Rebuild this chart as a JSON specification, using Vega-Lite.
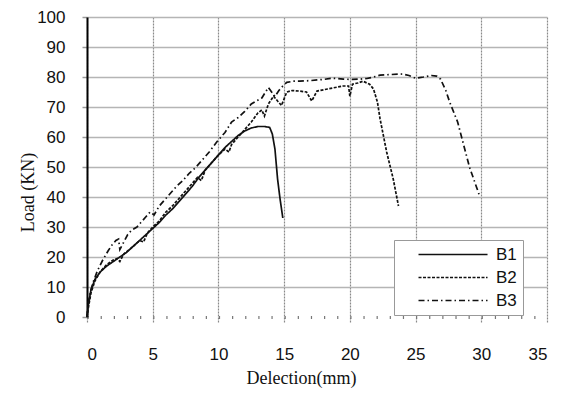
{
  "$schema": "https://vega.github.io/schema/vega-lite/v6.json",
  "autosize": {"type": "none"},
  "padding": {"left": 87, "top": 17, "right": 25, "bottom": 93},
  "width": 460,
  "height": 300,
  "background": "white",
  "config": {
    "view": {"stroke": null},
    "axis": {"labelFont": "Liberation Sans", "labelFontSize": 17, "labelColor": "#111", "titleFont": "Liberation Serif", "titleFontSize": 18, "titleFontWeight": "normal", "titleColor": "#111"}
  },
  "datasets": {
    "curves": [
      {"series": "B1", "x": 0, "y": 0}, {"series": "B1", "x": 0.1, "y": 4}, {"series": "B1", "x": 0.3, "y": 9}, {"series": "B1", "x": 0.6, "y": 12.5}, {"series": "B1", "x": 1, "y": 15}, {"series": "B1", "x": 1.5, "y": 17}, {"series": "B1", "x": 2, "y": 18.5}, {"series": "B1", "x": 2.5, "y": 20}, {"series": "B1", "x": 3, "y": 21.5}, {"series": "B1", "x": 3.5, "y": 23.5}, {"series": "B1", "x": 4, "y": 25.5}, {"series": "B1", "x": 4.5, "y": 27.5}, {"series": "B1", "x": 5, "y": 29.5}, {"series": "B1", "x": 5.5, "y": 31.5}, {"series": "B1", "x": 6, "y": 34}, {"series": "B1", "x": 6.5, "y": 36}, {"series": "B1", "x": 7, "y": 38.5}, {"series": "B1", "x": 7.5, "y": 41}, {"series": "B1", "x": 8, "y": 43.5}, {"series": "B1", "x": 8.5, "y": 46.5}, {"series": "B1", "x": 9, "y": 49}, {"series": "B1", "x": 9.5, "y": 51.5}, {"series": "B1", "x": 10, "y": 54}, {"series": "B1", "x": 10.5, "y": 56.5}, {"series": "B1", "x": 11, "y": 58.5}, {"series": "B1", "x": 11.5, "y": 60.5}, {"series": "B1", "x": 12, "y": 62}, {"series": "B1", "x": 12.5, "y": 63}, {"series": "B1", "x": 13, "y": 63.5}, {"series": "B1", "x": 13.5, "y": 63.5}, {"series": "B1", "x": 13.9, "y": 63.2}, {"series": "B1", "x": 14.1, "y": 61}, {"series": "B1", "x": 14.3, "y": 56}, {"series": "B1", "x": 14.5, "y": 46}, {"series": "B1", "x": 14.7, "y": 39}, {"series": "B1", "x": 14.9, "y": 33},
      {"series": "B2", "x": 0, "y": 0}, {"series": "B2", "x": 0.1, "y": 3}, {"series": "B2", "x": 0.3, "y": 8}, {"series": "B2", "x": 0.6, "y": 12}, {"series": "B2", "x": 1, "y": 15}, {"series": "B2", "x": 1.5, "y": 17.5}, {"series": "B2", "x": 2, "y": 19}, {"series": "B2", "x": 2.3, "y": 19.5}, {"series": "B2", "x": 2.5, "y": 18.5}, {"series": "B2", "x": 2.8, "y": 21}, {"series": "B2", "x": 3.5, "y": 23.5}, {"series": "B2", "x": 4, "y": 25.5}, {"series": "B2", "x": 4.3, "y": 25}, {"series": "B2", "x": 4.6, "y": 28}, {"series": "B2", "x": 5, "y": 30}, {"series": "B2", "x": 5.5, "y": 32}, {"series": "B2", "x": 6, "y": 35}, {"series": "B2", "x": 6.5, "y": 37}, {"series": "B2", "x": 7, "y": 39.5}, {"series": "B2", "x": 7.5, "y": 42}, {"series": "B2", "x": 8, "y": 44.5}, {"series": "B2", "x": 8.4, "y": 46.5}, {"series": "B2", "x": 8.7, "y": 45.5}, {"series": "B2", "x": 9, "y": 49}, {"series": "B2", "x": 9.5, "y": 51.5}, {"series": "B2", "x": 10, "y": 54}, {"series": "B2", "x": 10.5, "y": 56}, {"series": "B2", "x": 10.8, "y": 55}, {"series": "B2", "x": 11, "y": 57.5}, {"series": "B2", "x": 11.5, "y": 60}, {"series": "B2", "x": 12, "y": 62.5}, {"series": "B2", "x": 12.5, "y": 65}, {"series": "B2", "x": 13, "y": 68}, {"series": "B2", "x": 13.3, "y": 69}, {"series": "B2", "x": 13.5, "y": 67}, {"series": "B2", "x": 13.8, "y": 71}, {"series": "B2", "x": 14.2, "y": 73.6}, {"series": "B2", "x": 14.5, "y": 72}, {"series": "B2", "x": 14.8, "y": 70.5}, {"series": "B2", "x": 15.2, "y": 75}, {"series": "B2", "x": 15.6, "y": 75.5}, {"series": "B2", "x": 16.2, "y": 75.3}, {"series": "B2", "x": 16.7, "y": 75}, {"series": "B2", "x": 17.1, "y": 72}, {"series": "B2", "x": 17.5, "y": 75.3}, {"series": "B2", "x": 18.3, "y": 76}, {"series": "B2", "x": 19, "y": 76.6}, {"series": "B2", "x": 19.5, "y": 77}, {"series": "B2", "x": 19.9, "y": 77}, {"series": "B2", "x": 20, "y": 73.6}, {"series": "B2", "x": 20.2, "y": 77.6}, {"series": "B2", "x": 20.6, "y": 78}, {"series": "B2", "x": 21, "y": 78.6}, {"series": "B2", "x": 21.5, "y": 77.6}, {"series": "B2", "x": 21.8, "y": 76}, {"series": "B2", "x": 22.1, "y": 71.6}, {"series": "B2", "x": 22.3, "y": 66}, {"series": "B2", "x": 22.8, "y": 55}, {"series": "B2", "x": 23.3, "y": 46}, {"series": "B2", "x": 23.7, "y": 37},
      {"series": "B3", "x": 0, "y": 0}, {"series": "B3", "x": 0.1, "y": 5}, {"series": "B3", "x": 0.3, "y": 9}, {"series": "B3", "x": 0.5, "y": 12}, {"series": "B3", "x": 0.8, "y": 15.5}, {"series": "B3", "x": 1.2, "y": 19}, {"series": "B3", "x": 1.6, "y": 22}, {"series": "B3", "x": 1.9, "y": 24}, {"series": "B3", "x": 2.2, "y": 25.5}, {"series": "B3", "x": 2.4, "y": 26}, {"series": "B3", "x": 2.5, "y": 22.5}, {"series": "B3", "x": 2.8, "y": 25}, {"series": "B3", "x": 3.1, "y": 27.5}, {"series": "B3", "x": 3.4, "y": 29}, {"series": "B3", "x": 3.8, "y": 30}, {"series": "B3", "x": 4.1, "y": 31.5}, {"series": "B3", "x": 4.5, "y": 33.5}, {"series": "B3", "x": 4.8, "y": 35}, {"series": "B3", "x": 5.1, "y": 34}, {"series": "B3", "x": 5.5, "y": 37}, {"series": "B3", "x": 6, "y": 39.5}, {"series": "B3", "x": 6.3, "y": 41}, {"series": "B3", "x": 6.8, "y": 43.5}, {"series": "B3", "x": 7.3, "y": 45.5}, {"series": "B3", "x": 7.8, "y": 48}, {"series": "B3", "x": 8.3, "y": 50}, {"series": "B3", "x": 8.8, "y": 52.5}, {"series": "B3", "x": 9.3, "y": 55}, {"series": "B3", "x": 9.9, "y": 58.5}, {"series": "B3", "x": 10.5, "y": 61.5}, {"series": "B3", "x": 11, "y": 65}, {"series": "B3", "x": 11.5, "y": 66.5}, {"series": "B3", "x": 12, "y": 68.5}, {"series": "B3", "x": 12.5, "y": 71}, {"series": "B3", "x": 12.9, "y": 72}, {"series": "B3", "x": 13.3, "y": 73}, {"series": "B3", "x": 13.8, "y": 76.5}, {"series": "B3", "x": 14.3, "y": 73.5}, {"series": "B3", "x": 14.6, "y": 75.5}, {"series": "B3", "x": 14.9, "y": 77}, {"series": "B3", "x": 15.2, "y": 78.2}, {"series": "B3", "x": 15.7, "y": 78.6}, {"series": "B3", "x": 16.2, "y": 78.6}, {"series": "B3", "x": 17, "y": 78.8}, {"series": "B3", "x": 18, "y": 79.2}, {"series": "B3", "x": 18.7, "y": 79.6}, {"series": "B3", "x": 19.5, "y": 79.3}, {"series": "B3", "x": 20.2, "y": 79.2}, {"series": "B3", "x": 20.8, "y": 79.3}, {"series": "B3", "x": 21.3, "y": 79.5}, {"series": "B3", "x": 21.8, "y": 80}, {"series": "B3", "x": 22.3, "y": 80.6}, {"series": "B3", "x": 23, "y": 80.8}, {"series": "B3", "x": 24, "y": 81}, {"series": "B3", "x": 24.5, "y": 80.5}, {"series": "B3", "x": 25, "y": 79.6}, {"series": "B3", "x": 25.3, "y": 79.8}, {"series": "B3", "x": 25.6, "y": 80}, {"series": "B3", "x": 26.2, "y": 80.5}, {"series": "B3", "x": 26.6, "y": 80.3}, {"series": "B3", "x": 26.9, "y": 79.3}, {"series": "B3", "x": 27.3, "y": 75.5}, {"series": "B3", "x": 27.6, "y": 71.6}, {"series": "B3", "x": 28.2, "y": 65}, {"series": "B3", "x": 28.5, "y": 60}, {"series": "B3", "x": 29.1, "y": 50}, {"series": "B3", "x": 29.5, "y": 45}, {"series": "B3", "x": 29.9, "y": 40}
    ]
  },
  "data": {"name": "curves"},
  "mark": {"type": "line", "color": "#111", "strokeWidth": 1.7},
  "encoding": {
    "x": {
      "field": "x", "type": "quantitative",
      "scale": {"domain": [0, 35], "nice": false, "zero": false},
      "axis": {
        "values": [0, 5, 10, 15, 20, 25, 30, 35],
        "title": "Delection(mm)",
        "titleX": 214, "titleY": 61, "titleBaseline": "middle", "titleAlign": "center",
        "grid": true, "gridColor": "#8a8a8a", "gridDash": [2, 1], "gridWidth": 1.2,
        "domain": true, "domainColor": "#777", "domainWidth": 3, "domainDash": [1.2, 11.94],
        "ticks": true, "tickSize": 6, "tickColor": "#8a8a8a", "tickDash": [2, 1], "tickWidth": 1.2,
        "labelPadding": 23
      }
    },
    "y": {
      "field": "y", "type": "quantitative",
      "scale": {"domain": [0, 100], "nice": false},
      "axis": {
        "values": [0, 10, 20, 30, 40, 50, 60, 70, 80, 90, 100],
        "title": "Load (KN)",
        "titleX": -59, "titleY": 175, "titleBaseline": "middle", "titleAlign": "center", "titleAngle": -90,
        "grid": true, "gridColor": {"condition": {"test": "datum.value === 0", "value": "transparent"}, "value": "#b5b5b5"}, "gridWidth": 1.5,
        "domain": true, "domainColor": "#000", "domainWidth": 2,
        "ticks": true, "tickSize": 5, "tickColor": "#999", "tickWidth": 1.5,
        "labelPadding": 17
      }
    },
    "strokeDash": {
      "field": "series", "type": "nominal",
      "scale": {"domain": ["B1", "B2", "B3"], "range": [[1, 0], [3, 1.5], [6, 3, 1.5, 3]]},
      "legend": {
        "title": null,
        "orient": "none", "legendX": 307, "legendY": 223,
        "fillColor": "white", "strokeColor": "#999",
        "padding": 6, "rowPadding": 5,
        "symbolType": "M1.43,0H11.29", "symbolSize": 196, "symbolStrokeColor": "#111", "symbolStrokeWidth": 1.6,
        "labelFont": "Liberation Sans", "labelFontSize": 17, "labelColor": "#111", "labelOffset": 79,
        "labelExpr": "datum.label + '  '"
      }
    }
  }
}
